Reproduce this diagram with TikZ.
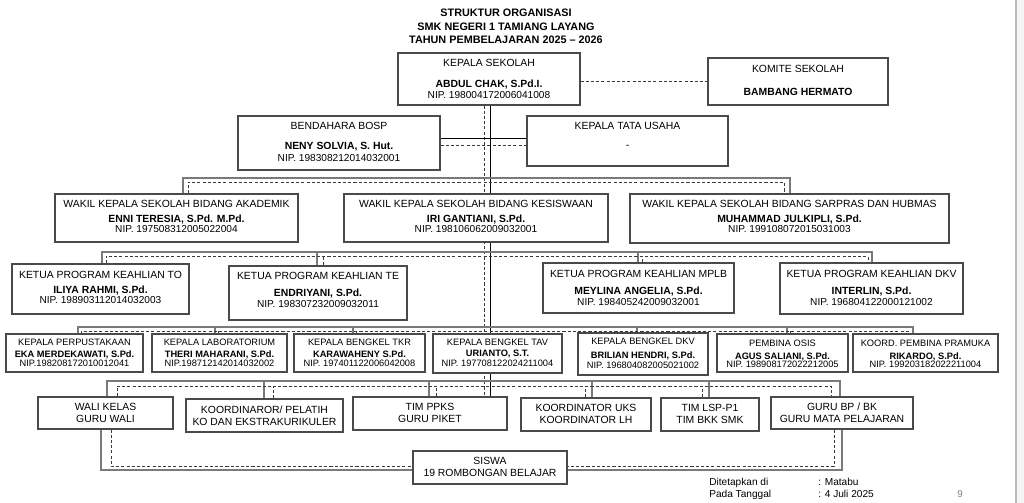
\documentclass[tikz,border=0pt]{standalone}
\usepackage{fontspec}
\setmainfont{Liberation Sans}
\usetikzlibrary{fit,backgrounds}
\definecolor{boxc}{HTML}{4A4A4A}
\definecolor{busc}{HTML}{7A7A7A}
\definecolor{dshc}{HTML}{3A3A3A}
\begin{document}
\begin{tikzpicture}[x=0.025cm,y=-0.025cm,
  box/.style={draw=boxc,line width=0.75pt,fill=white,inner sep=0pt},
  txt/.style={inner sep=0pt,text depth=0pt,font=\fontsize{7.4}{8}\selectfont},
  nm/.style={txt,font=\fontsize{7.4}{8}\selectfont\bfseries},
  nip/.style={txt,font=\fontsize{7.2}{8}\selectfont},
  sm/.style={txt,font=\fontsize{6.6}{7}\selectfont},
  smb/.style={txt,font=\fontsize{6.6}{7}\selectfont\bfseries},
  ttl/.style={txt,font=\fontsize{7.7}{9}\selectfont\bfseries},
  foot/.style={txt,anchor=west,font=\fontsize{7.2}{8}\selectfont},
  sol/.style={draw=black,line width=0.6pt},
  bus/.style={draw=busc,line width=0.9pt},
  dsh/.style={draw=dshc,line width=0.5pt,dash pattern=on 2.2pt off 1.5pt},
]
\useasboundingbox (0,0) rectangle (1024,503);
\fill[gray!8] (1016,0) rectangle (1024,503);
\draw[gray!55,line width=0.8pt] (1016,0) -- (1016,503);

% title
\node[ttl] (t1) at (506,13) {STRUKTUR ORGANISASI};
\node[ttl] (t2) at (506,27) {SMK NEGERI 1 TAMIANG LAYANG};
\node[ttl] (t3) at (506,40) {TAHUN PEMBELAJARAN 2025 -- 2026};

% row 0
\node[box,fit={(398,53) (580,105)}] (ks) {};
\node[txt] (ks1) at (ks |- 0,63) {KEPALA SEKOLAH};
\node[nm] (ks2) at (ks |- 0,84) {ABDUL CHAK, S.Pd.I.};
\node[nip] (ks3) at (ks |- 0,95) {NIP. 198004172006041008};

\node[box,fit={(708,58) (888,105)}] (kom) {};
\node[txt] (kom1) at (kom |- 0,69) {KOMITE SEKOLAH};
\node[nm] (kom2) at (kom |- 0,92) {BAMBANG HERMATO};

\node[box,fit={(238,116) (440,170)}] (bend) {};
\node[txt] (bend1) at (bend |- 0,126) {BENDAHARA BOSP};
\node[nm] (bend2) at (bend |- 0,146) {NENY SOLVIA, S. Hut.};
\node[nip] (bend3) at (bend |- 0,158) {NIP. 198308212014032001};

\node[box,fit={(527,116) (728,166)}] (ktu) {};
\node[txt] (ktu1) at (ktu |- 0,126) {KEPALA TATA USAHA};
\node[txt] (ktu2) at (ktu |- 0,147) {-};

% row 1
\node[box,fit={(55,194) (298,242)}] (akad) {};
\node[txt] (akad1) at (akad |- 0,204) {WAKIL KEPALA SEKOLAH BIDANG AKADEMIK};
\node[nm] (akad2) at (akad |- 0,219) {ENNI TERESIA, S.Pd. M.Pd.};
\node[nip] (akad3) at (akad |- 0,229) {NIP. 197508312005022004};

\node[box,fit={(344,194) (608,242)}] (kesis) {};
\node[txt] (kesis1) at (kesis |- 0,204) {WAKIL KEPALA SEKOLAH BIDANG KESISWAAN};
\node[nm] (kesis2) at (kesis |- 0,219) {IRI GANTIANI, S.Pd.};
\node[nip] (kesis3) at (kesis |- 0,229) {NIP. 198106062009032001};

\node[box,fit={(630,194) (949,243)}] (sarp) {};
\node[txt] (sarp1) at (sarp |- 0,204) {WAKIL KEPALA SEKOLAH BIDANG SARPRAS DAN HUBMAS};
\node[nm] (sarp2) at (sarp |- 0,219) {MUHAMMAD JULKIPLI, S.Pd.};
\node[nip] (sarp3) at (sarp |- 0,229) {NIP. 199108072015031003};

% row 2
\node[box,fit={(12,264) (189,314)}] (to) {};
\node[txt] (to1) at (to |- 0,275) {KETUA PROGRAM KEAHLIAN TO};
\node[nm] (to2) at (to |- 0,290) {ILIYA RAHMI, S.Pd.};
\node[nip] (to3) at (to |- 0,300) {NIP. 198903112014032003};

\node[box,fit={(229,266) (407,320)}] (te) {};
\node[txt] (te1) at (te |- 0,276) {KETUA PROGRAM KEAHLIAN TE};
\node[nm] (te2) at (te |- 0,293) {ENDRIYANI, S.Pd.};
\node[nip] (te3) at (te |- 0,304) {NIP. 198307232009032011};

\node[box,fit={(543,263) (734,313)}] (mplb) {};
\node[txt] (mplb1) at (mplb |- 0,274) {KETUA PROGRAM KEAHLIAN MPLB};
\node[nm] (mplb2) at (mplb |- 0,291) {MEYLINA ANGELIA, S.Pd.};
\node[nip] (mplb3) at (mplb |- 0,302) {NIP. 198405242009032001};

\node[box,fit={(780,263) (963,314)}] (dkv) {};
\node[txt] (dkv1) at (dkv |- 0,274) {KETUA PROGRAM KEAHLIAN DKV};
\node[nm] (dkv2) at (dkv |- 0,291) {INTERLIN, S.Pd.};
\node[nip] (dkv3) at (dkv |- 0,302) {NIP. 196804122000121002};

% row 3
\node[box,fit={(6,334) (143,372)}] (perp) {};
\node[sm] (perp1) at (perp |- 0,342) {KEPALA PERPUSTAKAAN};
\node[smb] (perp2) at (perp |- 0,354) {EKA MERDEKAWATI, S.Pd.};
\node[sm] (perp3) at (perp |- 0,363) {NIP.198208172010012041};

\node[box,fit={(152,334) (287,372)}] (lab) {};
\node[sm] (lab1) at (lab |- 0,342) {KEPALA LABORATORIUM};
\node[smb] (lab2) at (lab |- 0,354) {THERI MAHARANI, S.Pd.};
\node[sm] (lab3) at (lab |- 0,363) {NIP.198712142014032002};

\node[box,fit={(294,334) (425,372)}] (tkr) {};
\node[sm] (tkr1) at (tkr |- 0,342) {KEPALA BENGKEL TKR};
\node[smb] (tkr2) at (tkr |- 0,354) {KARAWAHENY S.Pd.};
\node[sm] (tkr3) at (tkr |- 0,363) {NIP. 197401122006042008};

\node[box,fit={(433,334) (562,373)}] (tav) {};
\node[sm] (tav1) at (tav |- 0,342) {KEPALA BENGKEL TAV};
\node[smb] (tav2) at (tav |- 0,353) {URIANTO, S.T.};
\node[sm] (tav3) at (tav |- 0,363) {NIP. 197708122024211004};

\node[box,fit={(578,333) (708,375)}] (bdkv) {};
\node[sm] (bdkv1) at (bdkv |- 0,341) {KEPALA BENGKEL DKV};
\node[smb] (bdkv2) at (bdkv |- 0,355) {BRILIAN HENDRI, S.Pd.};
\node[sm] (bdkv3) at (bdkv |- 0,365) {NIP. 196804082005021002};

\node[box,fit={(717,334) (848,372)}] (osis) {};
\node[sm] (osis1) at (osis |- 0,343) {PEMBINA OSIS};
\node[smb] (osis2) at (osis |- 0,356) {AGUS SALIANI, S.Pd.};
\node[sm] (osis3) at (osis |- 0,364) {NIP. 198908172022212005};

\node[box,fit={(853,334) (998,372)}] (pram) {};
\node[sm] (pram1) at (pram |- 0,343) {KOORD. PEMBINA PRAMUKA};
\node[smb] (pram2) at (pram |- 0,356) {RIKARDO, S.Pd.};
\node[sm] (pram3) at (pram |- 0,364) {NIP. 199203182022211004};

% row 4
\node[box,fit={(38,397) (173,429)}] (wali) {};
\node[txt] (wali1) at (wali |- 0,407) {WALI KELAS};
\node[txt] (wali2) at (wali |- 0,419) {GURU WALI};

\node[box,fit={(186,399) (343,432)}] (ko) {};
\node[txt] (ko1) at (ko |- 0,410) {KOORDINAROR/ PELATIH};
\node[txt] (ko2) at (ko |- 0,422) {KO DAN EKSTRAKURIKULER};

\node[box,fit={(353,397) (507,430)}] (ppks) {};
\node[txt] (ppks1) at (ppks |- 0,407) {TIM PPKS};
\node[txt] (ppks2) at (ppks |- 0,419) {GURU PIKET};

\node[box,fit={(521,398) (651,431)}] (uks) {};
\node[txt] (uks1) at (uks |- 0,408) {KOORDINATOR UKS};
\node[txt] (uks2) at (uks |- 0,420) {KOORDINATOR LH};

\node[box,fit={(661,398) (759,431)}] (lsp) {};
\node[txt] (lsp1) at (lsp |- 0,408) {TIM LSP-P1};
\node[txt] (lsp2) at (lsp |- 0,420) {TIM BKK SMK};

\node[box,fit={(771,397) (913,429)}] (bp) {};
\node[txt] (bp1) at (bp |- 0,407) {GURU BP / BK};
\node[txt] (bp2) at (bp |- 0,419) {GURU MATA PELAJARAN};

\node[box,fit={(413,451) (567,484)}] (sis) {};
\node[txt] (sis1) at (sis |- 0,461) {SISWA};
\node[txt] (sis2) at (sis |- 0,473) {19 ROMBONGAN BELAJAR};

% footer
\node[foot] (f1) at (709,482) {Ditetapkan di};
\node[foot] (f2) at (818,482) {: Matabu};
\node[foot] (f3) at (709,494) {Pada Tanggal};
\node[foot] (f4) at (818,494) {: 4 Juli 2025};
\node[txt,text=gray,font=\fontsize{7}{8}\selectfont] (pg) at (960,494) {9};

\begin{pgfonlayer}{background}
% trunk
\draw[sol] (ks.south -| 490,0) -- (ppks.north -| 490,0);
\draw[dsh] (ks.south -| 484,0) -- (ppks.north -| 484,0);
% komite
\draw[dsh] (ks.east |- 0,81) -- (kom.west |- 0,81);
% bendahara - ktu
\draw[sol] (bend.east |- 0,138) -- (ktu.west |- 0,138);
\draw[dsh] (bend.east |- 0,145) -- (ktu.west |- 0,145);
% bus 1
\draw[bus] (akad.north -| 183,0) -- (183,178) -- (790,178) -- (sarp.north -| 790,0);
\draw[dsh] (akad.north -| 188,0) -- (188,182) -- (784,182) -- (sarp.north -| 784,0);
% bus 2
\draw[bus] (to.north -| 102,0) -- (102,252) -- (872,252) -- (dkv.north -| 872,0);
\draw[bus] (te.north -| 317,0) -- (317,252);
\draw[bus] (mplb.north -| 638,0) -- (638,252);
\draw[dsh] (to.north -| 106,0) -- (106,256) -- (868,256) -- (dkv.north -| 868,0);
\draw[dsh] (te.north -| 323,0) -- (323,256);
\draw[dsh] (mplb.north -| 642,0) -- (642,256);
% bus 3
\draw[bus] (perp.north -| 78,0) -- (78,327) -- (913,327) -- (pram.north -| 913,0);
\draw[bus] (lab.north -| 215,0) -- (215,327);
\draw[bus] (tkr.north -| 353,0) -- (353,327);
\draw[bus] (bdkv.north -| 637,0) -- (637,327);
\draw[bus] (osis.north -| 787,0) -- (787,327);
\draw[dsh] (perp.north -| 81,0) -- (81,331) -- (909,331) -- (pram.north -| 909,0);
\draw[dsh] (lab.north -| 218,0) -- (218,331);
\draw[dsh] (tkr.north -| 356,0) -- (356,331);
\draw[dsh] (bdkv.north -| 640,0) -- (640,331);
\draw[dsh] (osis.north -| 790,0) -- (790,331);
% bus 4
\draw[bus] (wali.north -| 107,0) -- (107,381) -- (840,381) -- (bp.north -| 840,0);
\draw[bus] (ko.north -| 264,0) -- (264,381);
\draw[bus] (ppks.north -| 429,0) -- (429,381);
\draw[bus] (uks.north -| 592,0) -- (592,381);
\draw[bus] (lsp.north -| 709,0) -- (709,381);
\draw[dsh] (wali.north -| 117,0) -- (117,386) -- (831,386) -- (bp.north -| 831,0);
\draw[dsh] (ko.north -| 273,0) -- (273,386);
\draw[dsh] (ppks.north -| 436,0) -- (436,386);
\draw[dsh] (uks.north -| 585,0) -- (585,386);
\draw[dsh] (lsp.north -| 702,0) -- (702,386);
% to siswa
\draw[bus] (wali.south -| 101,0) |- (sis.west |- 0,470);
\draw[dsh] (wali.south -| 111,0) |- (sis.west |- 0,466);
\draw[bus] (bp.south -| 842,0) |- (sis.east |- 0,470);
\draw[dsh] (bp.south -| 834,0) |- (sis.east |- 0,466);
\end{pgfonlayer}
\end{tikzpicture}
\end{document}
